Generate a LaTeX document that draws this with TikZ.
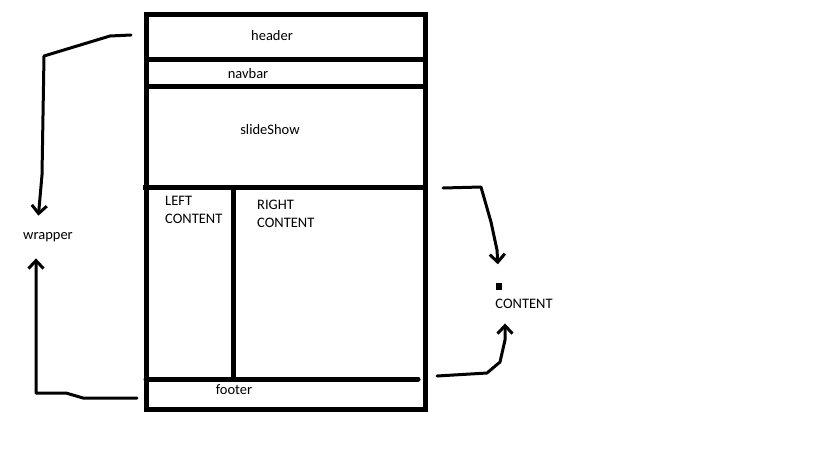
\documentclass[tikz,border=0pt]{standalone}
\usepackage{fontspec}
\setmainfont{Carlito}
\usetikzlibrary{arrows.meta}

\tikzstyle{frame} = [line width=5pt]
\tikzstyle{boxtext} = [align=left, inner sep=1pt, font=\fontsize{14.5}{18}\selectfont]
\tikzstyle{stroke} = [line width=3pt, line cap=round, line join=round, ->]

\begin{document}
\begin{tikzpicture}[x=1pt,y=-1pt,>={Straight Barb[length=8pt,width=15pt]}]
            %
            % We fix the size of the page first
            \useasboundingbox (0,0) rectangle (819,460);
            %
            % The page layout box and its rows
            \draw [frame] (146,15) rectangle (425,409);
            \draw [frame] (146,60) -- (425,60);
            \draw [frame] (146,86) -- (428,86);
            \draw [frame] (143,187) -- (425,187);
            \draw [frame] (233,187) -- (233,379);
            \draw [frame, line cap=round] (146,379) -- (418,379);
            %
            % Then the texts
            \node [boxtext] (header) at (272,35.5) {header};
            \node [boxtext] (navbar) at (248,73.5) {navbar};
            \node [boxtext] (slideshow) at (270,129.5) {slideShow};
            \node [boxtext, anchor=north west] (leftcontent) at (164,195) {LEFT\\CONTENT};
            \node [boxtext, anchor=north west] (rightcontent) at (256,199) {RIGHT\\CONTENT};
            \node [boxtext] (footer) at (234,389.5) {footer};
            \node [boxtext] (wrapper) at (48,237.5) {wrapper};
            \node [boxtext] (content) at (524,303.5) {CONTENT};
            \node [fill, inner sep=0pt, minimum width=6pt, minimum height=7pt] (dot) at (499,286) {};
            %
            % Free ends of the arrows
            \coordinate (fromheader) at (131,35);
            \coordinate (fromfooter) at (137,398);
            \coordinate (fromslide) at (443,188);
            \coordinate (fromline) at (437,376);
            %
            % Once the nodes are placed, the arrows follow the hand drawn lines.
            \draw [stroke, shorten >=16pt] (fromheader) -- (110,36) -- (44,56) -- (42,175) -- ([xshift=-11pt]wrapper.north);
            \draw [stroke, shorten >=15pt] (fromfooter) -- (83,398) -- (66,393) -- (36,393) -- ([xshift=-12pt]wrapper.south);
            \draw [stroke, shorten >=18pt] (fromslide) -- (481,187) -- (491,222) -- (497,250) -- (dot.north);
            \draw [stroke, shorten >=14pt] (fromline) -- (487,373) -- (500,362) -- (505,340) -- ([xshift=-19pt]content.south);
            %
        \end{tikzpicture}
\end{document}
